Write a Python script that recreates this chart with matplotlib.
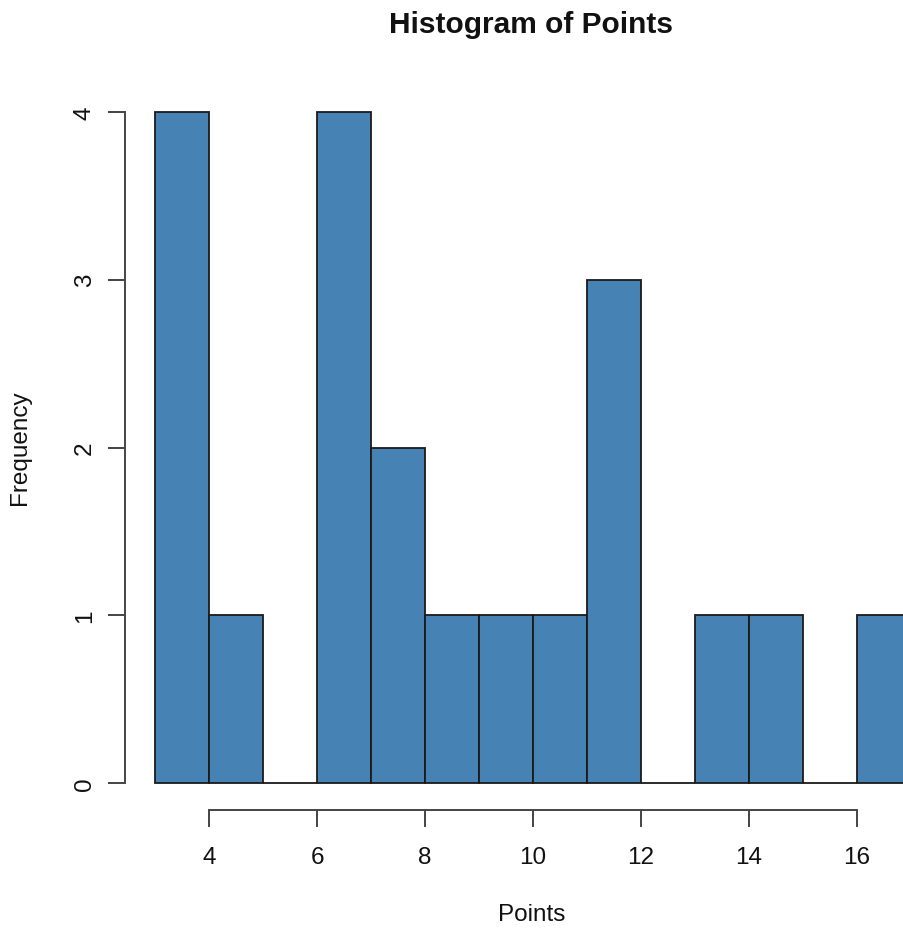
import numpy as np
import matplotlib
matplotlib.use('Agg')
import matplotlib.pyplot as plt

plt.rcParams['font.family'] = ['Liberation Sans', 'DejaVu Sans']

# histogram bins (width 1) and counts
bin_edges = [3, 4, 5, 6, 7, 8, 9, 10, 11, 12, 13, 14, 15, 16, 17]
counts = [4, 1, 0, 4, 2, 1, 1, 1, 3, 0, 1, 1, 0, 1]
x_ticks = [4, 6, 8, 10, 12, 14, 16]
y_ticks = [0, 1, 2, 3, 4]

fig = plt.figure(figsize=(9.04, 9.29), dpi=100)
# plot region runs past the right edge, as in the cropped reference
ax = fig.add_axes([125 / 904, 1 - 811 / 929, 816 / 904, 725 / 929])

ax.bar(bin_edges[:-1], counts, width=np.diff(bin_edges), align='edge',
       color='#4682B4', edgecolor='#1a1a1a', linewidth=1.3)

ax.set_xlim(2.44, 17.56)
ax.set_ylim(-0.16, 4.16)

for side in ['top', 'right']:
    ax.spines[side].set_visible(False)
ax.spines['left'].set_bounds(0, 4)
ax.spines['bottom'].set_bounds(4, 16)
for side in ['left', 'bottom']:
    ax.spines[side].set_color('#444444')
    ax.spines[side].set_linewidth(1.4)

ax.set_xticks(x_ticks)
ax.set_yticks(y_ticks)
ax.tick_params(direction='out', length=12, width=1.4, color='#444444',
               labelsize=17.5, labelcolor='#111111')
ax.tick_params(axis='x', pad=14)
ax.tick_params(axis='y', pad=9)
for lbl in ax.get_yticklabels():
    lbl.set_rotation(90)
    lbl.set_va('center')

fig.text(531 / 904, 1 - 25 / 929, 'Histogram of Points', ha='center', va='center',
         fontsize=21.5, fontweight='bold', color='#111111')
fig.text(532 / 904, 1 - 915 / 929, 'Points', ha='center', va='center',
         fontsize=17.5, color='#111111')
fig.text(20 / 904, 1 - 448 / 929, 'Frequency', ha='center', va='center',
         fontsize=17.5, rotation=90, color='#111111')

fig.savefig('out.png', dpi=100)
